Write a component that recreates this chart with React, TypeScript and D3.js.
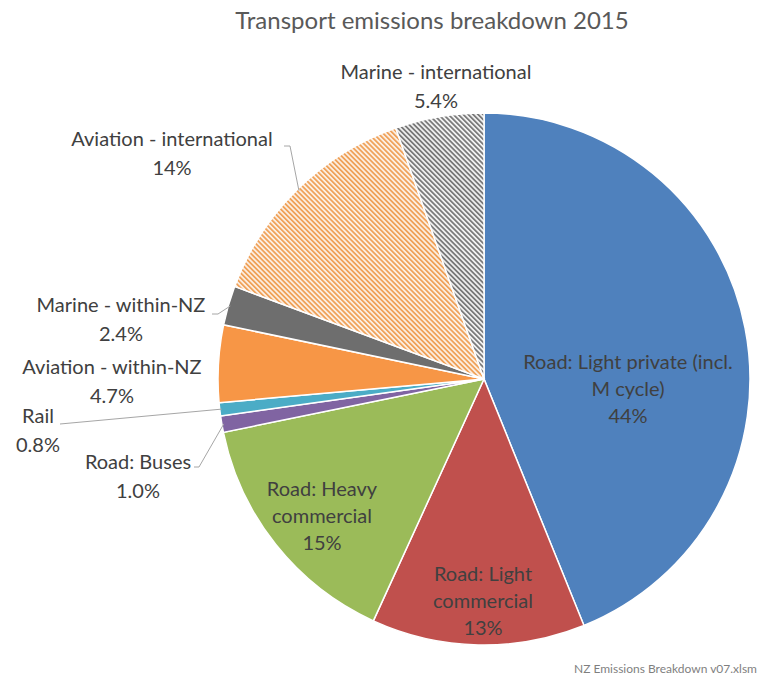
import React from "react";
import * as d3 from "d3";

const categories = [
  "Road: Light private (incl. M cycle)",
  "Road: Light commercial",
  "Road: Heavy commercial",
  "Road: Buses",
  "Rail",
  "Aviation - within-NZ",
  "Marine - within-NZ",
  "Aviation - international",
  "Marine - international",
];
const values = [44, 13, 15, 1.0, 0.8, 4.7, 2.4, 14, 5.4];
const valueLabels = ["44%", "13%", "15%", "1.0%", "0.8%", "4.7%", "2.4%", "14%", "5.4%"];
const colors = ["#4F81BD", "#C0504D", "#9BBB59", "#8064A2", "#4BACC6", "#F79646", "#6E6E6E", "hatch-orange", "hatch-gray"];

type Lab = { lines: string[]; x: number; y: number; leader?: [number, number][] };
const labelLayout: Lab[] = [
  { lines: ["Road: Light private (incl.", "M cycle)", "44%"], x: 628, y: 369 },
  { lines: ["Road: Light", "commercial", "13%"], x: 483, y: 581 },
  { lines: ["Road: Heavy", "commercial", "15%"], x: 322, y: 496 },
  { lines: ["Road: Buses", "1.0%"], x: 138, y: 469, leader: [[194, 467], [199, 467]] },
  { lines: ["Rail", "0.8%"], x: 38, y: 423, leader: [[60, 424]] },
  { lines: ["Aviation - within-NZ", "4.7%"], x: 112, y: 374 },
  { lines: ["Marine - within-NZ", "2.4%"], x: 121, y: 312, leader: [[212, 314], [218, 314]] },
  { lines: ["Aviation - international", "14%"], x: 172, y: 146, leader: [[284, 146], [290, 146]] },
  { lines: ["Marine - international", "5.4%"], x: 436, y: 79 },
];

const W = 761;
const H = 677;
const cx = 484;
const cy = 379;
const R = 266;
const FONT = "Lato, 'Open Sans', sans-serif";

export default function App() {
  const pie = d3.pie<number>().sort(null).value((d) => d);
  const arcs = pie(values);
  const arcGen = d3.arc<d3.PieArcDatum<number>>().innerRadius(0).outerRadius(R);

  const fillFor = (c: string) =>
    c === "hatch-orange" ? "url(#hatchOrange)" : c === "hatch-gray" ? "url(#hatchGray)" : c;

  return (
    <svg width={W} height={H} style={{ position: "absolute", left: 0, top: 0, background: "#fff" }}>
      <defs>
        <pattern id="hatchOrange" patternUnits="userSpaceOnUse" width="3.5" height="3.5" patternTransform="rotate(-45)">
          <rect width="3.5" height="3.5" fill="#FDF1E6" />
          <rect width="1.8" height="3.5" fill="#EFA25A" />
        </pattern>
        <pattern id="hatchGray" patternUnits="userSpaceOnUse" width="3.5" height="3.5" patternTransform="rotate(-45)">
          <rect width="3.5" height="3.5" fill="#F4F4F4" />
          <rect width="1.8" height="3.5" fill="#7A7A7A" />
        </pattern>
      </defs>
      <text x={432} y={29} textAnchor="middle" fontFamily={FONT} fontSize={24} fill="#595959">
        Transport emissions breakdown 2015
      </text>
      <g transform={`translate(${cx},${cy})`}>
        {arcs.map((a, i) => (
          <path key={i} d={arcGen(a) || ""} fill={fillFor(colors[i])} stroke="#fff" strokeWidth={1.5} />
        ))}
      </g>
      {labelLayout.map((l, i) => {
        const a = arcs[i];
        const mid = (a.startAngle + a.endAngle) / 2;
        const ex = cx + (R - 2) * Math.sin(mid);
        const ey = cy - (R - 2) * Math.cos(mid);
        return (
          <g key={i}>
            {l.leader && (
              <polyline
                points={[...l.leader, [ex, ey]].map((p) => p.join(",")).join(" ")}
                fill="none"
                stroke="#A6A6A6"
                strokeWidth={1}
              />
            )}
            <text textAnchor="middle" fontFamily={FONT} fontSize={20} fill="#404040">
              {l.lines.map((t, j) => (
                <tspan key={j} x={l.x} y={l.y + j * (i <= 2 ? 27 : 29)}>
                  {t}
                </tspan>
              ))}
            </text>
          </g>
        );
      })}
      <text x={757} y={673} textAnchor="end" fontFamily={FONT} fontSize={12} fill="#7F7F7F">
        NZ Emissions Breakdown v07.xlsm
      </text>
    </svg>
  );
}
